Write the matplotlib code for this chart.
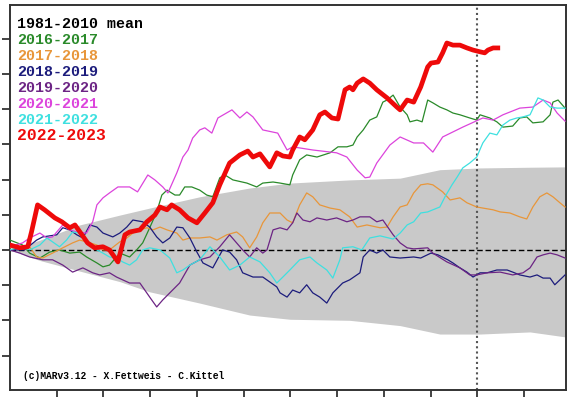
import matplotlib
matplotlib.use("Agg")
import matplotlib.pyplot as plt

# x: months since 1 September, y: anomaly (one tick = one unit)
month_ticks = [1, 2, 3, 4, 5, 6, 7, 8, 9, 10, 11]
today = 10.0

# 1981-2010 spread (grey band)
band_x = [0, 0.64, 1.49, 2.35, 2.99, 4.06, 5.13, 5.99, 7.27, 8.35, 9.2, 10.06, 11.13, 11.88]
band_hi = [0, 0.28, 0.71, 0.99, 1.19, 1.51, 1.76, 1.90, 1.99, 2.04, 2.28, 2.33, 2.35, 2.36]
band_lo = [0, -0.30, -0.60, -0.90, -1.19, -1.51, -1.85, -1.97, -2.00, -2.15, -2.39, -2.39, -2.33, -2.47]

y1617 = [(0, 0.28), (0.27, 0.14), (0.42, -0.09), (0.64, -0.23), (0.85, -0.06), (1.06, 0), (1.28, -0.09),
         (1.49, -0.06), (1.64, -0.20), (1.86, -0.37), (1.99, -0.48), (2.13, -0.43), (2.35, -0.09), (2.56, -0.20),
         (2.71, 0), (2.84, 0.20), (2.99, 0.63), (3.14, 1.08), (3.25, 1.56), (3.36, 1.70), (3.53, 1.56),
         (3.63, 1.56), (3.74, 1.79), (3.89, 1.79), (4.06, 1.70), (4.21, 1.56), (4.34, 1.51), (4.49, 2.05),
         (4.60, 2.13), (4.77, 1.99), (5.07, 1.90), (5.28, 1.79), (5.41, 1.90), (5.63, 1.93), (5.78, 1.90),
         (5.99, 1.85), (6.05, 2.13), (6.20, 2.56), (6.35, 2.70), (6.57, 2.64), (6.85, 2.76), (7.02, 2.93),
         (7.21, 2.93), (7.34, 2.98), (7.43, 3.21), (7.56, 3.41), (7.70, 3.69), (7.85, 3.78), (7.98, 4.20),
         (8.07, 4.26), (8.20, 4.40), (8.35, 4.06), (8.50, 3.84), (8.56, 3.64), (8.71, 3.69), (8.82, 3.64),
         (8.94, 4.26), (9.05, 4.18), (9.20, 4.06), (9.35, 3.98), (9.48, 3.89), (9.63, 3.84), (9.84, 3.75),
         (9.99, 3.69), (10.06, 3.84), (10.27, 3.75), (10.42, 3.64), (10.55, 3.49), (10.76, 3.52), (10.91, 3.75),
         (11.06, 3.78), (11.19, 3.61), (11.41, 3.64), (11.56, 3.84), (11.62, 4.20), (11.73, 4.26), (11.88, 4.03)]

y1718 = [(0, 0.06), (0.42, 0.09), (0.57, -0.20), (0.70, -0.23), (0.91, -0.09), (1.13, 0.06), (1.34, 0.20),
         (1.49, 0.28), (1.64, 0.23), (1.86, 0.14), (1.99, 0), (2.13, 0), (2.35, 0.23), (2.50, 0.34), (2.63, 0.48),
         (2.78, 0.57), (2.93, 0.63), (3.06, 0.57), (3.21, 0.65), (3.36, 0.57), (3.57, 0.48), (3.70, 0.28),
         (3.85, 0.34), (4.06, 0.34), (4.28, 0.37), (4.43, 0.28), (4.64, 0.43), (4.85, 0.51), (4.98, 0.37),
         (5.13, 0.06), (5.28, 0.37), (5.41, 0.77), (5.56, 1.05), (5.78, 1.05), (5.93, 0.85), (6.05, 0.77),
         (6.20, 1.28), (6.35, 1.62), (6.48, 1.51), (6.63, 1.28), (6.85, 1.19), (7.06, 1.14), (7.27, 0.94),
         (7.43, 0.65), (7.64, 0.71), (7.92, 0.63), (8.07, 0.65), (8.20, 0.94), (8.35, 1.22), (8.50, 1.28),
         (8.64, 1.62), (8.79, 1.85), (8.94, 1.88), (9.05, 1.85), (9.26, 1.65), (9.42, 1.42), (9.63, 1.48),
         (9.78, 1.34), (9.99, 1.22), (10.12, 1.19), (10.34, 1.14), (10.49, 1.08), (10.70, 1.05), (10.91, 0.94),
         (11.06, 0.88), (11.19, 1.22), (11.34, 1.51), (11.49, 1.62), (11.62, 1.51), (11.77, 1.34), (11.88, 1.22)]

y1819 = [(0, 0), (0.31, 0), (0.57, 0.28), (0.70, 0.37), (1.00, 0.43), (1.13, 0.63), (1.28, 0.57), (1.43, 0.43),
         (1.56, 0.34), (1.71, 0.71), (1.86, 0.65), (1.99, 0.48), (2.20, 0.37), (2.35, 0.48), (2.50, 0.65),
         (2.63, 0.85), (2.84, 0.80), (2.99, 0.65), (3.14, 0.37), (3.27, 0.20), (3.42, 0.34), (3.57, 0.65),
         (3.70, 0.63), (3.85, 0.34), (4.00, -0.06), (4.13, -0.37), (4.34, -0.51), (4.55, 0), (4.70, -0.06),
         (4.85, -0.28), (4.98, -0.65), (5.20, -0.77), (5.41, -0.77), (5.56, -0.91), (5.71, -1.05), (5.78, -1.22),
         (5.93, -1.34), (6.05, -1.14), (6.20, -1.22), (6.35, -0.99), (6.48, -1.22), (6.63, -1.34), (6.78, -1.51),
         (6.91, -1.22), (7.12, -0.94), (7.27, -0.85), (7.49, -0.65), (7.56, -0.20), (7.70, 0), (7.85, -0.09),
         (7.98, 0), (8.13, -0.20), (8.35, -0.23), (8.64, -0.20), (8.79, -0.23), (9.01, -0.09), (9.16, -0.14),
         (9.37, -0.28), (9.48, -0.37), (9.63, -0.51), (9.78, -0.63), (9.91, -0.77), (10.06, -0.65),
         (10.21, -0.65), (10.42, -0.57), (10.64, -0.57), (10.76, -0.63), (10.91, -0.71), (11.13, -0.77),
         (11.28, -0.71), (11.41, -0.80), (11.56, -0.80), (11.66, -0.99), (11.77, -0.85), (11.88, -0.71)]

y1920 = [(0, 0), (0.21, -0.09), (0.42, -0.20), (0.70, -0.28), (0.91, -0.28), (1.13, -0.43), (1.34, -0.63),
         (1.56, -0.51), (1.77, -0.65), (1.92, -0.71), (2.13, -0.65), (2.28, -0.77), (2.56, -0.94), (2.78, -0.94),
         (2.99, -1.34), (3.14, -1.62), (3.27, -1.42), (3.42, -1.22), (3.63, -0.94), (3.85, -0.43), (4.06, -0.28),
         (4.28, -0.20), (4.49, 0.09), (4.70, 0.43), (4.85, 0.20), (4.98, 0), (5.13, -0.20), (5.28, 0.06),
         (5.41, -0.09), (5.50, 0), (5.63, 0.57), (5.78, 0.63), (5.93, 0.57), (6.05, 0.77), (6.14, 1.05),
         (6.27, 0.85), (6.42, 0.80), (6.57, 0.91), (6.78, 0.85), (6.99, 0.91), (7.21, 0.80), (7.34, 0.85),
         (7.49, 0.94), (7.70, 0.94), (7.85, 0.80), (7.98, 0.85), (8.20, 0.43), (8.35, 0.20), (8.50, 0.06),
         (8.64, 0.03), (8.94, 0.06), (9.05, -0.09), (9.35, -0.34), (9.63, -0.51), (9.84, -0.71), (9.99, -0.71),
         (10.21, -0.65), (10.49, -0.63), (10.76, -0.71), (10.98, -0.65), (11.13, -0.51), (11.28, -0.20),
         (11.41, -0.14), (11.56, -0.09), (11.71, -0.14), (11.88, -0.23)]

y2021 = [(0, 0.09), (0.27, 0.20), (0.42, 0.34), (0.64, 0.48), (0.79, 0.34), (0.91, 0.37), (1.13, 0.71),
         (1.28, 0.57), (1.43, 0.51), (1.64, 0.48), (1.77, 0.80), (1.86, 1.28), (1.99, 1.48), (2.13, 1.62),
         (2.31, 1.79), (2.56, 1.79), (2.73, 1.65), (2.95, 2.13), (3.10, 1.99), (3.27, 1.79), (3.38, 1.62),
         (3.57, 2.19), (3.70, 2.64), (3.81, 2.84), (3.91, 3.18), (4.06, 3.41), (4.17, 3.47), (4.32, 3.32),
         (4.45, 3.75), (4.75, 3.98), (4.92, 3.75), (5.07, 3.92), (5.20, 3.78), (5.41, 3.41), (5.73, 3.32),
         (5.93, 2.84), (6.05, 2.93), (6.48, 2.84), (6.99, 2.76), (7.21, 2.64), (7.43, 2.27), (7.60, 2.05),
         (7.70, 2.07), (7.85, 2.47), (8.13, 2.98), (8.35, 3.21), (8.64, 3.04), (8.85, 3.04), (9.05, 2.78),
         (9.26, 3.21), (9.69, 3.49), (10.12, 3.75), (10.34, 3.69), (10.55, 3.84), (10.91, 4.03), (11.19, 4.06),
         (11.41, 4.26), (11.56, 4.18), (11.71, 3.89), (11.88, 3.66)]

y2122 = [(0, 0), (0.21, 0.09), (0.42, 0), (0.64, 0.14), (0.79, 0.34), (0.91, 0.23), (1.06, 0.09), (1.21, 0.28),
         (1.34, 0.51), (1.49, 0.48), (1.64, 0.28), (1.86, 0), (1.99, -0.09), (2.13, -0.20), (2.28, -0.23),
         (2.41, -0.34), (2.56, -0.43), (2.71, -0.28), (2.84, 0), (2.99, 0.06), (3.21, 0), (3.42, -0.23),
         (3.57, -0.65), (3.70, -0.57), (3.85, -0.43), (4.06, -0.28), (4.28, 0.09), (4.49, -0.20), (4.70, -0.57),
         (4.92, -0.43), (5.13, -0.20), (5.35, -0.34), (5.56, -0.65), (5.71, -0.94), (5.84, -0.77), (5.99, -0.57),
         (6.20, -0.28), (6.42, -0.20), (6.57, -0.37), (6.78, -0.57), (6.91, -0.80), (7.06, -0.28), (7.12, 0.06),
         (7.34, 0.09), (7.53, 0), (7.70, 0.34), (7.92, 0.40), (8.20, 0.31), (8.35, 0.48), (8.50, 0.71),
         (8.64, 0.80), (8.79, 1.05), (8.94, 1.08), (9.05, 1.14), (9.20, 1.22), (9.31, 1.51), (9.46, 1.85),
         (9.57, 2.07), (9.69, 2.33), (9.84, 2.47), (9.99, 2.64), (10.12, 3.04), (10.27, 3.32), (10.42, 3.27),
         (10.55, 3.55), (10.70, 3.69), (10.85, 3.75), (10.98, 3.78), (11.13, 3.84), (11.30, 4.32), (11.41, 4.26),
         (11.56, 4.06), (11.71, 4.03), (11.88, 4.03)]

y2223 = [(0, 0.14), (0.21, 0.06), (0.38, 0.09), (0.46, 0.51), (0.59, 1.28), (0.74, 1.14), (0.96, 0.91),
         (1.11, 0.80), (1.28, 0.63), (1.39, 0.71), (1.54, 0.43), (1.66, 0.20), (1.81, 0.06), (1.99, 0.09),
         (2.13, 0), (2.31, -0.34), (2.46, 0.43), (2.56, 0.51), (2.78, 0.57), (2.93, 0.80), (3.10, 0.99),
         (3.21, 1.22), (3.36, 1.14), (3.46, 1.28), (3.63, 1.14), (3.81, 0.91), (4.00, 0.77), (4.17, 1.05),
         (4.34, 1.34), (4.49, 1.85), (4.70, 2.47), (4.92, 2.70), (5.09, 2.81), (5.20, 2.64), (5.35, 2.73),
         (5.56, 2.36), (5.71, 2.76), (5.84, 2.67), (5.99, 2.64), (6.05, 2.84), (6.20, 3.21), (6.31, 3.13),
         (6.48, 3.41), (6.63, 3.84), (6.74, 3.92), (6.89, 3.75), (7.02, 3.72), (7.17, 4.55), (7.27, 4.63),
         (7.34, 4.55), (7.43, 4.74), (7.56, 4.86), (7.70, 4.74), (7.85, 4.55), (8.07, 4.32), (8.28, 4.06),
         (8.35, 3.98), (8.50, 4.26), (8.64, 4.20), (8.79, 4.63), (8.94, 5.20), (9.01, 5.31), (9.16, 5.34),
         (9.26, 5.60), (9.35, 5.88), (9.48, 5.82), (9.63, 5.82), (9.78, 5.74), (9.91, 5.68), (10.06, 5.63),
         (10.16, 5.60), (10.23, 5.68), (10.34, 5.74), (10.44, 5.74)]

labels = ["1981-2010 mean", "2016-2017", "2017-2018", "2018-2019", "2019-2020",
          "2020-2021", "2021-2022", "2022-2023"]
colors = ["black", "#2a8a2a", "#e8963a", "#1c1c7c", "#6c2484", "#dc44dc", "#3ee0e0", "#ee0a0a"]
series = [y1617, y1718, y1819, y1920, y2021, y2122]

fig = plt.figure(figsize=(5.74, 3.97), dpi=100)
ax = fig.add_axes([10 / 574, 7 / 397, 556 / 574, 385 / 397])

ax.fill_between(band_x, band_lo, band_hi, color="#c9c9c9", lw=0, zorder=1)
ax.axhline(0, color="black", lw=1.0, ls=(0, (4, 2)), zorder=2)
ax.axvline(today, color="#555555", lw=1.5, ls=(0, (1, 1.5)), zorder=2)

for s, c in zip(series, colors[1:7]):
    xs = [p[0] for p in s]
    ys = [p[1] for p in s]
    ax.plot(xs, ys, color=c, lw=0.9, zorder=3)

ax.plot([p[0] for p in y2223], [p[1] for p in y2223], color=colors[7], lw=3.4,
        solid_joinstyle="round", zorder=4)

ax.set_xlim(0, 11.9)
ax.set_ylim(-3.98, 6.96)
ax.set_xticks(month_ticks)
ax.set_yticks(range(-3, 7))
ax.set_xticklabels([])
ax.set_yticklabels([])
ax.tick_params(direction="out", length=6, width=1.2, color="#222222")
for sp in ax.spines.values():
    sp.set_linewidth(1.4)
    sp.set_color("#333333")

# legend as coloured text lines
for i, (lab, c) in enumerate(zip(labels, colors)):
    size = 11.8 if i == 7 else 10.8
    fig.text(17 / 574, 1 - (24 + 16 * i) / 397, lab, color=c, fontsize=size,
             family="Liberation Mono", weight="bold", va="center", ha="left")

fig.text(23 / 574, 1 - 376 / 397, "(c)MARv3.12 - X.Fettweis - C.Kittel", fontsize=6.9,
         family="Liberation Mono", weight="bold", va="center", ha="left")

fig.savefig("out.png", dpi=100)
